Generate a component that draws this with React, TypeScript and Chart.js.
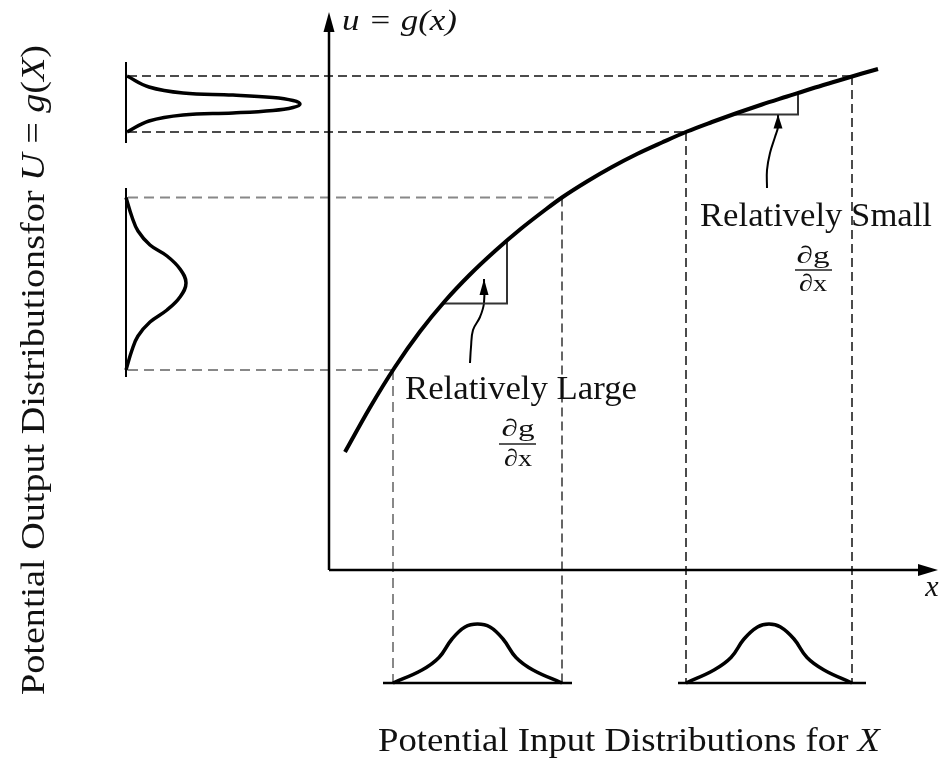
import React, { useEffect, useRef } from "react";
import { Chart, registerables } from "chart.js";

Chart.register(...registerables);

// Diagram units: x = input value, u = output value; axis corner at (0, 0)
const curveX = [16, 41, 66, 91, 116, 141, 166, 191, 216, 233, 258, 283, 308, 333, 358, 383, 408, 433, 458, 483, 508, 533, 549];
const curveU = [118, 162.5, 203, 238.5, 269, 295.5, 319, 340.5, 360, 372.5, 388.5, 403, 416, 427.5, 438.5, 448, 457, 465.5, 473.5, 481.5, 489, 496.5, 501];

// input intervals (steep slope region / flat slope region)
const inputWide = [64, 233];
const inputNarrow = [357, 523];
// corresponding output intervals
const outputWide = [200, 372.5];
const outputNarrow = [438, 494];

// output distribution axis position and extents
const outAxisX = -203;
const outNarrowAxis = [427, 508];
const outWideAxis = [193, 382];
const outNarrowU = [494, 483, 477, 475, 472.5, 469.5, 466, 462.5, 459.5, 457, 455, 449, 438];
const outNarrowH = [1, 23, 57, 107, 147, 167, 174, 167, 147, 107, 57, 23, 1];
const outWideU = [372.5, 353, 339, 325, 314, 301, 287, 273, 260, 248, 234, 220, 200];
const outWideH = [0, 6, 12, 24, 41, 54, 60, 54, 41, 24, 12, 6, 0];

// input distributions (bottom)
const inBaseU = -113;
const inWideX = [64, 93, 110, 123, 136, 148.5, 161, 174, 187, 204, 233];
const inNarrowX = [357, 385, 402, 415, 428.5, 440, 451.5, 465, 478, 495, 523];
const inH = [0, 13, 25.5, 44, 56, 59, 56, 44, 25.5, 13, 0];
const inWideBase = [54, 243];
const inNarrowBase = [349, 537];

// slope triangles
const triLargeX = [114, 178, 178];
const triLargeU = [266.5, 266.5, 329];
const triSmallX = [403, 469, 469];
const triSmallU = [455.5, 455.5, 477];

// pointer arrows
const ptrLargeX = [141, 142, 144, 151, 155, 155];
const ptrLargeU = [207, 223, 240, 253, 267, 291];
const ptrSmallX = [438, 438, 441, 446, 449, 449];
const ptrSmallU = [382, 400, 417, 433, 443, 455.5];

// axes
const xAxisEnd = 592;
const xAxisTip = 609;
const yAxisEnd = 545;
const yAxisTip = 558;

// text
const labelLarge = "Relatively Large";
const labelSmall = "Relatively Small";
const fracTop = "\u2202g";
const fracBottom = "\u2202x";
const titleBottom: [string, boolean][] = [["Potential Input Distributions for ", false], ["X", true]];
const titleLeft: [string, boolean][] = [
  ["Potential Output Distributionsfor ", false],
  ["U", true],
  [" = ", false],
  ["g", true],
  ["(", false],
  ["X", true],
  [")", false],
];
const yAxisLabel: [string, boolean][] = [["u = g(x)", true]];
const xAxisLabel: [string, boolean][] = [["x", true]];

const pts = (xs: number[], us: number[]) => xs.map((x, i) => ({ x, y: us[i] }));

const FONT = '"Liberation Serif", "Times New Roman", serif';

function drawRich(
  ctx: CanvasRenderingContext2D,
  segs: [string, boolean][],
  x: number,
  y: number,
  size: number,
  targetW: number | null,
  align: "left" | "center",
  rotate = false
) {
  ctx.save();
  ctx.translate(x, y);
  if (rotate) ctx.rotate(-Math.PI / 2);
  let total = 0;
  const ws = segs.map(([t, it]) => {
    ctx.font = `${it ? "italic " : ""}${size}px ${FONT}`;
    const w = ctx.measureText(t).width;
    total += w;
    return w;
  });
  const sx = targetW ? targetW / total : 1;
  ctx.scale(sx, 1);
  let cx = align === "center" ? -total / 2 : 0;
  ctx.textBaseline = "middle";
  ctx.textAlign = "left";
  ctx.fillStyle = "#111";
  segs.forEach(([t, it], i) => {
    ctx.font = `${it ? "italic " : ""}${size}px ${FONT}`;
    ctx.fillText(t, cx, 0);
    cx += ws[i];
  });
  ctx.restore();
}

function arrowHead(
  ctx: CanvasRenderingContext2D,
  tx: number,
  ty: number,
  fx: number,
  fy: number,
  len: number,
  hw: number
) {
  const dx = tx - fx;
  const dy = ty - fy;
  const d = Math.hypot(dx, dy) || 1;
  const ux = dx / d;
  const uy = dy / d;
  const bx = tx - ux * len;
  const by = ty - uy * len;
  ctx.save();
  ctx.fillStyle = "#000";
  ctx.beginPath();
  ctx.moveTo(tx, ty);
  ctx.lineTo(bx - uy * hw, by + ux * hw);
  ctx.lineTo(bx + uy * hw, by - ux * hw);
  ctx.closePath();
  ctx.fill();
  ctx.restore();
}

const annotations = {
  id: "annotations",
  afterDatasetsDraw(chart: any) {
    const ctx: CanvasRenderingContext2D = chart.ctx;
    const X = (v: number) => chart.scales.x.getPixelForValue(v);
    const Y = (v: number) => chart.scales.y.getPixelForValue(v);

    // axis arrowheads
    arrowHead(ctx, X(0), Y(yAxisTip), X(0), Y(0), 20, 5.5);
    arrowHead(ctx, X(xAxisTip), Y(0), X(0), Y(0), 20, 6);
    // pointer arrowheads
    const nL = ptrLargeX.length - 1;
    arrowHead(ctx, X(ptrLargeX[nL]), Y(ptrLargeU[nL]), X(ptrLargeX[nL - 1]), Y(ptrLargeU[nL - 1]), 16, 4.5);
    const nS = ptrSmallX.length - 1;
    arrowHead(ctx, X(ptrSmallX[nS]), Y(ptrSmallU[nS]), X(ptrSmallX[nS - 1]), Y(ptrSmallU[nS - 1]), 14, 4.5);

    // axis labels
    drawRich(ctx, yAxisLabel, X(13), Y(548), 30, 115, "left");
    drawRich(ctx, xAxisLabel, X(603), Y(-18), 30, null, "center");

    // relative slope labels
    drawRich(ctx, [[labelLarge, false]], X(76), Y(180), 34, 232, "left");
    drawRich(ctx, [[fracTop, false]], X(189), Y(140), 24, 33, "center");
    drawRich(ctx, [[fracBottom, false]], X(189), Y(110), 24, 28, "center");
    drawRich(ctx, [[labelSmall, false]], X(371), Y(353), 34, 232, "left");
    drawRich(ctx, [[fracTop, false]], X(484), Y(313), 24, 33, "center");
    drawRich(ctx, [[fracBottom, false]], X(484), Y(285), 24, 28, "center");
    ctx.save();
    ctx.strokeStyle = "#222";
    ctx.lineWidth = 1.5;
    ctx.beginPath();
    ctx.moveTo(X(170), Y(126));
    ctx.lineTo(X(207), Y(126));
    ctx.moveTo(X(466), Y(300));
    ctx.lineTo(X(503), Y(300));
    ctx.stroke();
    ctx.restore();

    // titles
    drawRich(ctx, titleBottom, X(300), Y(-172), 33, 502, "center");
    drawRich(ctx, titleLeft, X(-294), Y(200), 33, 650, "center", true);
  },
};

export default function App() {
  const ref = useRef<HTMLCanvasElement | null>(null);

  useEffect(() => {
    if (!ref.current) return;
    const solid = (data: any[], width: number, extra: any = {}) => ({
      data,
      showLine: true,
      pointRadius: 0,
      borderColor: "#000",
      borderWidth: width,
      tension: 0,
      fill: false,
      ...extra,
    });
    const dashBlack = { borderDash: [9, 5], borderColor: "#111" };
    const dashGray = { borderDash: [10, 6], borderColor: "#888" };

    const datasets: any[] = [
      // g(x)
      solid(pts(curveX, curveU), 4, { cubicInterpolationMode: "monotone" }),
      // axes
      solid([{ x: 0, y: 0 }, { x: xAxisEnd, y: 0 }], 2.5),
      solid([{ x: 0, y: 0 }, { x: 0, y: yAxisEnd }], 2.5),
      // slope triangles
      solid(pts(triLargeX, triLargeU), 2, { borderColor: "#333" }),
      solid(pts(triSmallX, triSmallU), 2, { borderColor: "#333" }),
      // pointers
      solid(pts(ptrLargeX, ptrLargeU), 2, { tension: 0.4 }),
      solid(pts(ptrSmallX, ptrSmallU), 2, { tension: 0.4 }),
      // output distributions
      solid([{ x: outAxisX, y: outNarrowAxis[0] }, { x: outAxisX, y: outNarrowAxis[1] }], 2),
      solid([{ x: outAxisX, y: outWideAxis[0] }, { x: outAxisX, y: outWideAxis[1] }], 2),
      solid(outNarrowH.map((h, i) => ({ x: outAxisX + h, y: outNarrowU[i] })), 3.5, { tension: 0.4 }),
      solid(outWideH.map((h, i) => ({ x: outAxisX + h, y: outWideU[i] })), 3.5, { tension: 0.4 }),
      // input distributions
      solid([{ x: inWideBase[0], y: inBaseU }, { x: inWideBase[1], y: inBaseU }], 2.5),
      solid([{ x: inNarrowBase[0], y: inBaseU }, { x: inNarrowBase[1], y: inBaseU }], 2.5),
      solid(inWideX.map((x, i) => ({ x, y: inBaseU + inH[i] })), 3.5, { tension: 0.4 }),
      solid(inNarrowX.map((x, i) => ({ x, y: inBaseU + inH[i] })), 3.5, { tension: 0.4 }),
      // projection lines: horizontal
      solid([{ x: outAxisX + 2, y: outputNarrow[1] }, { x: inputNarrow[1], y: outputNarrow[1] }], 1.5, dashBlack),
      solid([{ x: outAxisX + 2, y: outputNarrow[0] }, { x: inputNarrow[0], y: outputNarrow[0] }], 1.5, dashBlack),
      solid([{ x: outAxisX + 2, y: outputWide[1] }, { x: inputWide[1], y: outputWide[1] }], 2, dashGray),
      solid([{ x: outAxisX + 2, y: outputWide[0] }, { x: inputWide[0], y: outputWide[0] }], 2, dashGray),
      // projection lines: vertical
      solid([{ x: inputWide[0], y: outputWide[0] }, { x: inputWide[0], y: inBaseU }], 2, dashGray),
      solid([{ x: inputWide[1], y: outputWide[1] }, { x: inputWide[1], y: inBaseU }], 1.5, { borderDash: [9, 5], borderColor: "#333" }),
      solid([{ x: inputNarrow[0], y: outputNarrow[0] }, { x: inputNarrow[0], y: inBaseU }], 1.5, dashBlack),
      solid([{ x: inputNarrow[1], y: outputNarrow[1] }, { x: inputNarrow[1], y: inBaseU }], 1.5, dashBlack),
    ];

    const chart = new Chart(ref.current, {
      type: "scatter",
      data: { datasets },
      options: {
        animation: false,
        responsive: false,
        devicePixelRatio: 1,
        layout: { padding: 0 },
        events: [],
        plugins: { legend: { display: false }, tooltip: { enabled: false }, title: { display: false } },
        scales: {
          x: { type: "linear", min: -329, max: 614, display: false },
          y: { type: "linear", min: -191, max: 570, display: false },
        },
      },
      plugins: [annotations],
    });
    return () => chart.destroy();
  }, []);

  return (
    <div style={{ position: "absolute", left: 0, top: 0, width: 943, height: 761, background: "#fff" }}>
      <canvas ref={ref} width={943} height={761} style={{ display: "block", width: 943, height: 761 }} />
    </div>
  );
}
